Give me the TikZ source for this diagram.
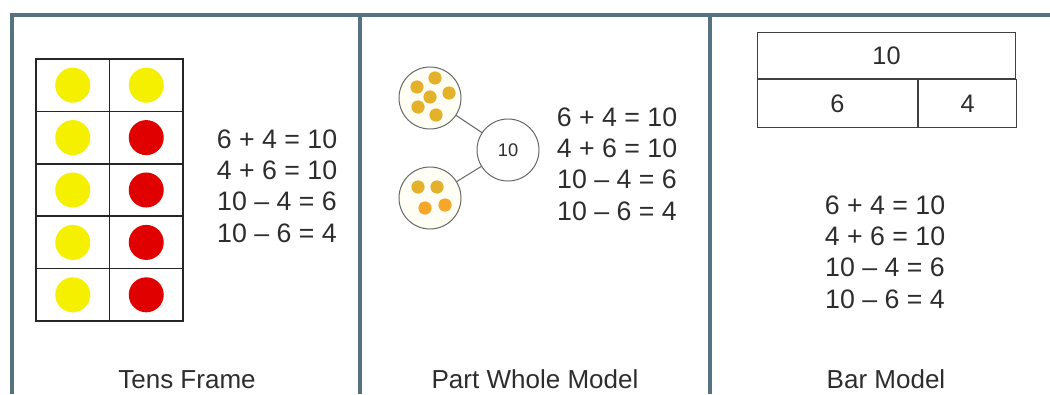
\documentclass[tikz,border=0pt]{standalone}
\usepackage{fontspec}
\setmainfont{Liberation Sans}
\usetikzlibrary{positioning}
\definecolor{framecol}{RGB}{84,114,128}
\definecolor{counteryellow}{RGB}{245,240,0}
\definecolor{counterred}{RGB}{225,0,0}
\definecolor{dotgold}{RGB}{228,178,42}
\definecolor{dotorange}{RGB}{246,166,40}
\definecolor{inkgray}{RGB}{45,45,45}

\begin{document}
\begin{tikzpicture}[
  x=0.025cm, y=-0.025cm,
  frameline/.style={draw=framecol, line width=2.2pt},
  cell/.style={rectangle, draw=black!85, line width=1.1pt, minimum width=1.8375cm, minimum height=1.31cm, inner sep=0pt},
  counter/.style={circle, minimum size=0.875cm, inner sep=0pt},
  part/.style={circle, draw=black!60, fill=yellow!4, line width=0.7pt, minimum size=1.55cm, inner sep=0pt},
  whole/.style={circle, draw=black!60, fill=white, line width=0.7pt, minimum size=1.55cm, inner sep=0pt, text=inkgray, font=\fontsize{13}{15}\selectfont},
  dot/.style={circle, minimum size=0.33cm, inner sep=0pt},
  link/.style={draw=black!60, line width=0.7pt},
  barbox/.style={rectangle, draw=black!75, line width=0.7pt, inner sep=0pt, text=inkgray, font=\fontsize{18}{21}\selectfont},
  sums/.style={align=center, text=inkgray, font=\fontsize{19}{22.3}\selectfont},
  caption/.style={anchor=base, text=inkgray, font=\fontsize{18.5}{22}\selectfont}
]
\useasboundingbox (0,0) rectangle (1050,394);
\draw[frameline] (12,394) -- (12,15) -- (1050,15);
\draw[frameline] (360,15) -- (360,394);
\draw[frameline] (710,15) -- (710,394);

\foreach \r in {1,...,5}
  \foreach \c in {1,2}
    \node[cell] (cell\r\c) at ({72.75+(\c-1)*73.5}, {85.2+(\r-1)*52.4}) {};
\foreach \r in {1,...,5}
  \node[counter, fill=counteryellow] (lcount\r) at (cell\r1) {};
\node[counter, fill=counteryellow] (rcount1) at (cell12) {};
\foreach \r in {2,...,5}
  \node[counter, fill=counterred] (rcount\r) at (cell\r2) {};
\node[sums] (tenssums) at (277,186) {6 + 4 = 10\\4 + 6 = 10\\10 – 4 = 6\\10 – 6 = 4};
\node[caption] (tenscap) at (187,388) {Tens Frame};

\node[part] (parttop) at (430,98) {};
\node[part] (partbot) at (430,198) {};
\node[whole] (wholeten) at (508,150) {10};
\draw[link] (parttop) -- (wholeten);
\draw[link] (partbot) -- (wholeten);
\foreach \p [count=\i] in {(435,78),(417,87),(430,97),(449,93),(418,107),(436,115)}
  \node[dot, fill=dotgold] (topdot\i) at \p {};
\foreach \p [count=\i] in {(418,187),(437,187)}
  \node[dot, fill=dotgold] (botdot\i) at \p {};
\foreach \p [count=\i] in {(425,208),(445,205)}
  \node[dot, fill=dotorange] (lowdot\i) at \p {};
\node[sums] (partsums) at (617,164) {6 + 4 = 10\\4 + 6 = 10\\10 – 4 = 6\\10 – 6 = 4};
\node[caption] (partcap) at (535,388) {Part Whole Model};

\node[barbox, minimum width=6.45cm, minimum height=1.15cm, anchor=north west] (barten) at (757,32) {10};
\node[barbox, minimum width=4cm, minimum height=1.2cm, anchor=north west] (barsix) at (barten.south west) {6};
\node[barbox, minimum width=2.45cm, minimum height=1.2cm, right=0pt of barsix] (barfour) {4};
\node[sums] (barsums) at (885,252) {6 + 4 = 10\\4 + 6 = 10\\10 – 4 = 6\\10 – 6 = 4};
\node[caption] (barcap) at (886,388) {Bar Model};
\end{tikzpicture}
\end{document}
